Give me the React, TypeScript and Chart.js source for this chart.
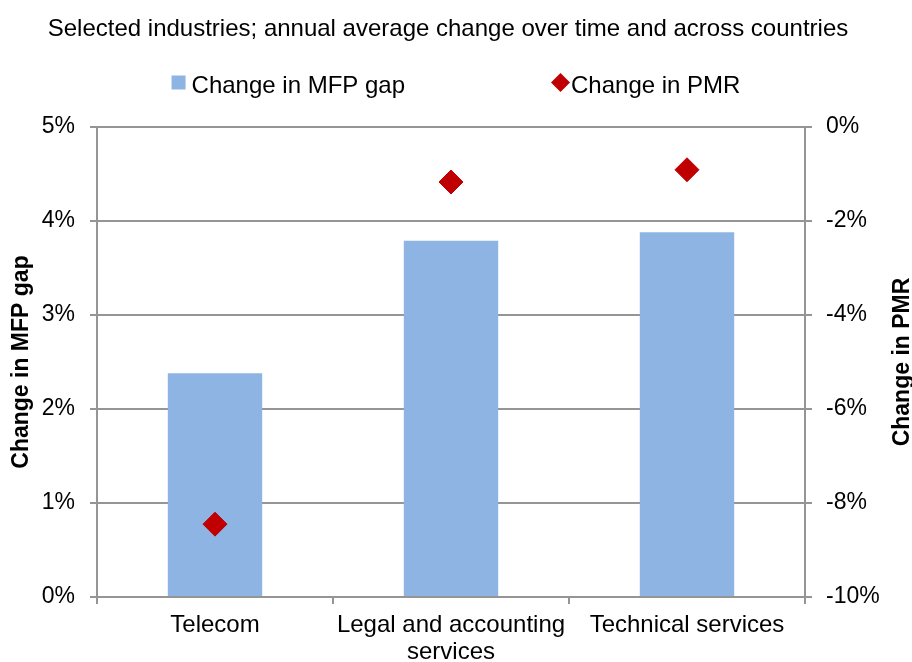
import React, { useEffect, useRef } from 'react';
import { Chart, registerables } from 'chart.js';

Chart.register(...registerables);

// ---- Data ----
const categories: (string | string[])[] = ['Telecom', ['Legal and accounting', 'services'], 'Technical services'];
const mfpGapChange = [2.38, 3.79, 3.88];
const pmrChange = [-8.45, -1.17, -0.91];
const seriesLabels = ['Change in MFP gap', 'Change in PMR'];
const titleText = 'Selected industries; annual average change over time and across countries';
const leftAxisTitle = 'Change in MFP gap';
const rightAxisTitle = 'Change in PMR';
const leftAxisRange = { min: 0, max: 5, step: 1 };
const rightAxisRange = { min: -10, max: 0, step: 2 };

// ---- Styles ----
const FONT = '"Liberation Sans", Arial, Helvetica, sans-serif';
const BAR_COLOR = '#8EB4E3';
const POINT_COLOR = '#C00000';
const GRID_COLOR = '#959595';

const titlePlugin = {
  id: 'customTitle',
  afterDraw(chart: any) {
    const ctx = chart.ctx as CanvasRenderingContext2D;
    ctx.save();
    ctx.font = `24px ${FONT}`;
    ctx.fillStyle = '#000';
    ctx.textAlign = 'center';
    ctx.textBaseline = 'middle';
    ctx.fillText(titleText, chart.width / 2 - 8, 29.5);
    ctx.restore();
  },
};

const legendPlugin = {
  id: 'customLegend',
  afterDraw(chart: any) {
    const ctx = chart.ctx as CanvasRenderingContext2D;
    ctx.save();
    ctx.font = `24px ${FONT}`;
    ctx.textBaseline = 'middle';
    ctx.textAlign = 'left';
    const markY = 82.5;
    const textY = 86;
    const sq = 14, sqGap = 6, itemGap = 146, dia = 19, diaGap = 1;
    const w1 = ctx.measureText(seriesLabels[0]).width;
    const w2 = ctx.measureText(seriesLabels[1]).width;
    const total = sq + sqGap + w1 + itemGap + dia + diaGap + w2;
    let x = chart.width / 2 - total / 2;
    ctx.fillStyle = BAR_COLOR;
    ctx.fillRect(x, markY - sq / 2, sq, sq);
    x += sq + sqGap;
    ctx.fillStyle = '#000';
    ctx.fillText(seriesLabels[0], x, textY);
    x += w1 + itemGap;
    ctx.fillStyle = POINT_COLOR;
    ctx.beginPath();
    ctx.moveTo(x, markY);
    ctx.lineTo(x + dia / 2, markY - dia / 2);
    ctx.lineTo(x + dia, markY);
    ctx.lineTo(x + dia / 2, markY + dia / 2);
    ctx.closePath();
    ctx.fill();
    x += dia + diaGap;
    ctx.fillStyle = '#000';
    ctx.fillText(seriesLabels[1], x, textY);
    ctx.restore();
  },
};

const rightTitlePlugin = {
  id: 'rightTitle',
  afterDraw(chart: any) {
    const ctx = chart.ctx as CanvasRenderingContext2D;
    const area = chart.chartArea;
    ctx.save();
    ctx.font = `bold 23px ${FONT}`;
    ctx.fillStyle = '#000';
    ctx.textAlign = 'center';
    ctx.textBaseline = 'alphabetic';
    ctx.translate(chart.width - 3, (area.top + area.bottom) / 2);
    ctx.rotate(-Math.PI / 2);
    ctx.fillText(rightAxisTitle, 0, 0);
    ctx.restore();
  },
};

export default function App() {
  const canvasRef = useRef<HTMLCanvasElement | null>(null);

  useEffect(() => {
    document.body.style.margin = '0';
    const canvas = canvasRef.current;
    if (!canvas) return;
    Chart.defaults.font.family = FONT;
    Chart.defaults.color = '#000';

    const chart = new Chart(canvas, {
      type: 'bar',
      data: {
        labels: categories,
        datasets: [
          {
            type: 'line',
            label: seriesLabels[1],
            data: pmrChange,
            yAxisID: 'y1',
            showLine: false,
            pointStyle: 'rectRot',
            pointRadius: 12,
            pointBorderWidth: 1,
            pointBackgroundColor: POINT_COLOR,
            pointBorderColor: POINT_COLOR,
            borderColor: POINT_COLOR,
            backgroundColor: POINT_COLOR,
            order: 0,
          } as any,
          {
            type: 'bar',
            label: seriesLabels[0],
            data: mfpGapChange,
            yAxisID: 'y',
            backgroundColor: BAR_COLOR,
            borderWidth: 0,
            categoryPercentage: 1,
            barPercentage: 0.4,
            order: 1,
          },
        ],
      },
      options: {
        responsive: false,
        animation: false,
        layout: { padding: { top: 127, left: 0, right: 0, bottom: 0 } },
        plugins: {
          legend: { display: false },
          tooltip: { enabled: false },
          title: { display: false },
        },
        scales: {
          x: {
            type: 'category',
            offset: true,
            grid: {
              offset: true,
              drawOnChartArea: false,
              drawTicks: true,
              tickLength: 7,
              color: GRID_COLOR,
              lineWidth: 2,
            },
            border: { display: true, color: GRID_COLOR, width: 2 },
            ticks: {
              color: '#000',
              font: { size: 24, family: FONT, lineHeight: 1.125 },
              padding: 8,
              maxRotation: 0,
              autoSkip: false,
            },
            afterFit(scale: any) {
              scale.height = 65;
            },
          },
          y: {
            type: 'linear',
            position: 'left',
            min: leftAxisRange.min,
            max: leftAxisRange.max,
            grid: {
              color: GRID_COLOR,
              lineWidth: 2,
              tickLength: 7,
              drawTicks: true,
            },
            border: { display: true, color: GRID_COLOR, width: 2 },
            ticks: {
              stepSize: leftAxisRange.step,
              color: '#000',
              font: { size: 23, family: FONT },
              padding: 15,
              callback: (v: any) => `${v}%`,
            },
            title: {
              display: true,
              text: leftAxisTitle,
              color: '#000',
              font: { size: 23, weight: 'bold', family: FONT, lineHeight: 1.2 },
              padding: { top: 8, bottom: 0 },
            },
            afterFit(scale: any) {
              scale.width = 97;
            },
          },
          y1: {
            type: 'linear',
            position: 'right',
            min: rightAxisRange.min,
            max: rightAxisRange.max,
            grid: {
              drawOnChartArea: false,
              color: GRID_COLOR,
              lineWidth: 2,
              tickLength: 7,
              drawTicks: true,
            },
            border: { display: true, color: GRID_COLOR, width: 2 },
            ticks: {
              stepSize: rightAxisRange.step,
              color: '#000',
              font: { size: 23, family: FONT },
              padding: 14,
              callback: (v: any) => `${v}%`,
            },
            afterFit(scale: any) {
              scale.width = 107;
            },
          },
        },
      },
      plugins: [titlePlugin, legendPlugin, rightTitlePlugin],
    });

    return () => {
      chart.destroy();
    };
  }, []);

  return (
    <div style={{ width: 912, height: 662 }}>
      <canvas ref={canvasRef} width={912} height={662} style={{ display: 'block' }} />
    </div>
  );
}
